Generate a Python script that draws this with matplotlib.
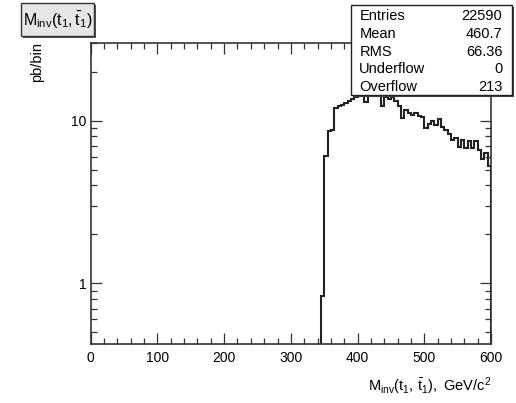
import numpy as np
import matplotlib
matplotlib.use("Agg")
import matplotlib.pyplot as plt
from matplotlib.patches import Rectangle

plt.rcParams['font.family'] = ['Liberation Sans', 'DejaVu Sans']
plt.rcParams['mathtext.fontset'] = 'custom'
plt.rcParams['mathtext.rm'] = 'Liberation Sans'
plt.rcParams['mathtext.it'] = 'Liberation Sans:italic'

# histogram content, 5 GeV bins starting at 345 GeV (bins below are empty)
bin_lo = 345
bin_width = 5
counts = [0.84, 6.1, 8.7, 8.8, 11.9, 12.3, 12.5, 12.8, 13.3, 13.6,
          14.0, 14.4, 14.6, 13.1, 14.8, 15.2, 15.0, 14.8, 12.3, 14.0,
          13.6, 13.9, 13.2, 12.3, 10.4, 11.6, 11.2, 10.9, 11.1, 10.7,
          10.6, 9.0, 9.6, 9.9, 9.4, 10.2, 9.2, 8.8, 8.3, 7.6,
          7.8, 6.9, 7.6, 6.8, 7.5, 6.8, 7.5, 6.6, 5.8, 6.3, 5.3]
edges = bin_lo + bin_width * np.arange(len(counts) + 1)

stat_names = ["Entries", "Mean", "RMS", "Underflow", "Overflow"]
stat_values = ["22590", "460.7", "66.36", "0", "213"]

W, H = 516, 403
fig = plt.figure(figsize=(W / 100, H / 100), dpi=100)
ax = fig.add_axes([90.7 / W, 1 - 344.3 / H, 400.3 / W, 301.6 / H])

ax.stairs(counts, edges, baseline=1e-3, color='#222222', lw=1.5)
ax.set_yscale('log')
ax.set_xlim(0, 600)
ax.set_ylim(0.4217, 30.2)

ax.set_xticks(np.arange(0, 601, 100))
ax.set_xticks(np.arange(0, 601, 20), minor=True)
ax.set_yticks([1, 10])
ax.set_yticklabels(['1', '10'])
ax.tick_params(which='both', direction='in', top=True, right=True,
               color='#333333', labelsize=10, width=0.9)
ax.tick_params(which='major', length=8)
ax.tick_params(which='minor', length=4.5)
ax.tick_params(axis='x', pad=5)
ax.tick_params(axis='y', pad=3)
for s in ax.spines.values():
    s.set_color('#333333')
    s.set_linewidth(1.2)


def px(x, y):
    return x / W, 1 - y / H


# y axis title
fig.text(*px(37.5, 42), 'pb/bin', rotation=90, ha='center', va='top', fontsize=10.5)
# x axis title
fig.text(*px(491, 391), r'$\mathrm{M_{inv}(t_{1},\,\bar{t}_{1}),}$ GeV/c$^{2}$',
         ha='right', va='baseline', fontsize=10.5)

# title box with shadow
fig.patches.append(Rectangle(px(22.5, 37.5), 73.6 / W, 32.4 / H, transform=fig.transFigure,
                             facecolor='#555555', edgecolor='none', zorder=1))
fig.patches.append(Rectangle(px(20.7, 35.7), 73.6 / W, 32.4 / H, transform=fig.transFigure,
                             facecolor='#e6e6e6', edgecolor='#333333', lw=1, zorder=2))
fig.text(*px(57.5, 20), r'$\mathrm{M_{inv}(t_{1}, \bar{t}_{1})}$', ha='center', va='center',
         fontsize=11.5, zorder=3)

# stats box with shadow
fig.patches.append(Rectangle(px(352.7, 97), 161 / W, 90 / H, transform=fig.transFigure,
                             facecolor='#444444', edgecolor='none', zorder=1))
fig.patches.append(Rectangle(px(350.7, 95), 161 / W, 90 / H, transform=fig.transFigure,
                             facecolor='white', edgecolor='#222222', lw=1, zorder=2))
row_y = [15.7, 34.3, 51.7, 69.3, 86.7]
for name, val, yy in zip(stat_names, stat_values, row_y):
    fig.text(*px(359.3, yy), name, ha='left', va='center', fontsize=10.5, zorder=3)
    fig.text(*px(502.3, yy), val, ha='right', va='center', fontsize=10.5, zorder=3)

fig.savefig('out.png', dpi=100)
